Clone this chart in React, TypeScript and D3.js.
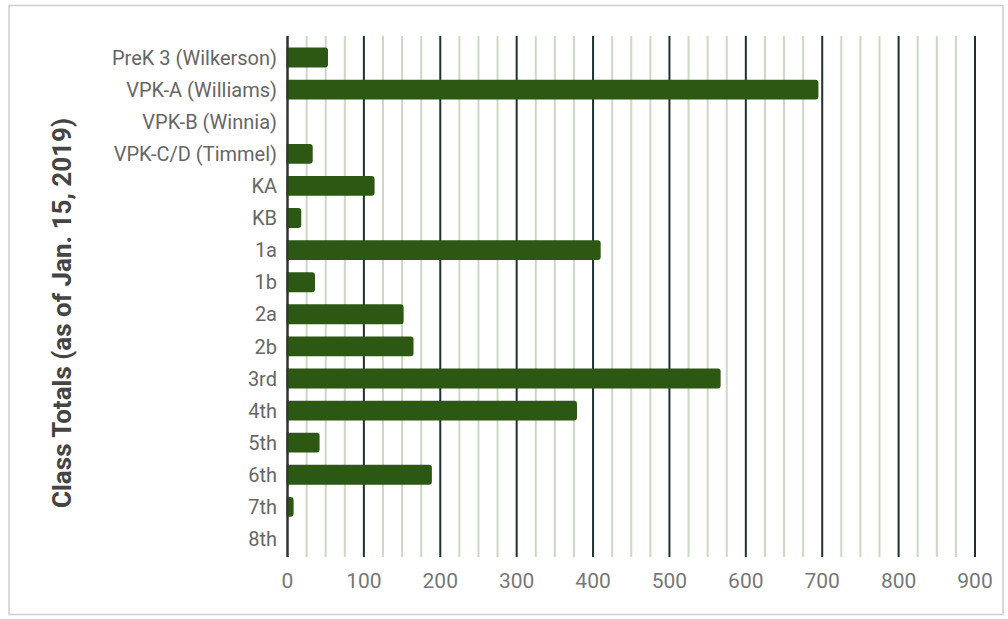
import { useEffect, useRef } from 'react'
import * as d3 from 'd3'

const classes = [
  'PreK 3 (Wilkerson)',
  'VPK-A (Williams)',
  'VPK-B (Winnia)',
  'VPK-C/D (Timmel)',
  'KA',
  'KB',
  '1a',
  '1b',
  '2a',
  '2b',
  '3rd',
  '4th',
  '5th',
  '6th',
  '7th',
  '8th',
]
const totals = [53, 695, 0, 33, 114, 18, 410, 36, 152, 165, 567, 379, 42, 189, 8, 0]
const majorTicks = [0, 100, 200, 300, 400, 500, 600, 700, 800, 900]
const minorTicks = d3.range(25, 900, 25).filter((v) => v % 100 !== 0)
const yTitle = 'Class Totals (as of Jan. 15, 2019)'

export default function App() {
  const svgRef = useRef<SVGSVGElement>(null)

  useEffect(() => {
    const svg = svgRef.current
    if (!svg) return
    const width = 1008
    const height = 619

    d3.select(svg).selectAll('*').remove()
    const root = d3.select(svg).attr('width', width).attr('height', height)

    // frame
    root
      .append('rect')
      .attr('x', 9)
      .attr('y', 5.5)
      .attr('width', 994)
      .attr('height', 609)
      .attr('fill', '#fff')
      .attr('stroke', '#cfcfcf')
      .attr('stroke-width', 1.5)

    const x = d3.scaleLinear().domain([0, 900]).range([287.5, 975])
    const y = d3.scaleBand<string>().domain(classes).range([41.5, 555]).paddingInner(0.38).paddingOuter(0.19)

    const gridTop = 36
    const gridBottom = 557

    // minor grid
    root
      .append('g')
      .selectAll('line')
      .data(minorTicks)
      .join('line')
      .attr('x1', (d) => x(d))
      .attr('x2', (d) => x(d))
      .attr('y1', gridTop)
      .attr('y2', gridBottom)
      .attr('stroke', '#cbd8c2')
      .attr('stroke-width', 2)

    // major grid
    root
      .append('g')
      .selectAll('line')
      .data(majorTicks)
      .join('line')
      .attr('x1', (d) => x(d))
      .attr('x2', (d) => x(d))
      .attr('y1', gridTop)
      .attr('y2', gridBottom)
      .attr('stroke', '#1f3030')
      .attr('stroke-width', 2)

    // bars
    root
      .append('g')
      .selectAll('path')
      .data(classes.map((c, i) => ({ c, v: totals[i] })).filter((d) => d.v > 0))
      .join('path')
      .attr('fill', '#2d5813')
      .attr('d', (d) => {
        const x0 = x(0) - 1
        const x1 = x(d.v)
        const y0 = y(d.c)!
        const h = y.bandwidth()
        const r = Math.min(3, (x1 - x0) / 2)
        return `M${x0},${y0}H${x1 - r}Q${x1},${y0} ${x1},${y0 + r}V${y0 + h - r}Q${x1},${y0 + h} ${x1 - r},${y0 + h}H${x0}Z`
      })

    // zero axis line on top
    root
      .append('line')
      .attr('x1', x(0))
      .attr('x2', x(0))
      .attr('y1', gridTop)
      .attr('y2', gridBottom)
      .attr('stroke', '#333')
      .attr('stroke-width', 2)

    // category labels
    root
      .append('g')
      .selectAll('text')
      .data(classes)
      .join('text')
      .attr('x', 277)
      .attr('y', (d) => y(d)! + y.bandwidth() / 2)
      .attr('dy', '0.36em')
      .attr('text-anchor', 'end')
      .attr('fill', '#666')
      .attr('font-family', 'Roboto')
      .attr('font-size', '20px')
      .text((d) => d)

    // x tick labels
    root
      .append('g')
      .selectAll('text')
      .data(majorTicks)
      .join('text')
      .attr('x', (d) => x(d))
      .attr('y', 588)
      .attr('text-anchor', 'middle')
      .attr('fill', '#777')
      .attr('font-family', 'Roboto')
      .attr('font-size', '21px')
      .text((d) => String(d))

    // y title
    root
      .append('text')
      .attr('transform', `translate(71,313) rotate(-90)`)
      .attr('text-anchor', 'middle')
      .attr('fill', '#444')
      .attr('font-family', 'Roboto')
      .attr('font-weight', 'bold')
      .attr('font-size', '26px')
      .text(yTitle)
  }, [])

  return (
    <div style={{ position: 'absolute', left: 0, top: 0, background: '#fff' }}>
      <svg ref={svgRef} style={{ display: 'block' }} />
    </div>
  )
}
